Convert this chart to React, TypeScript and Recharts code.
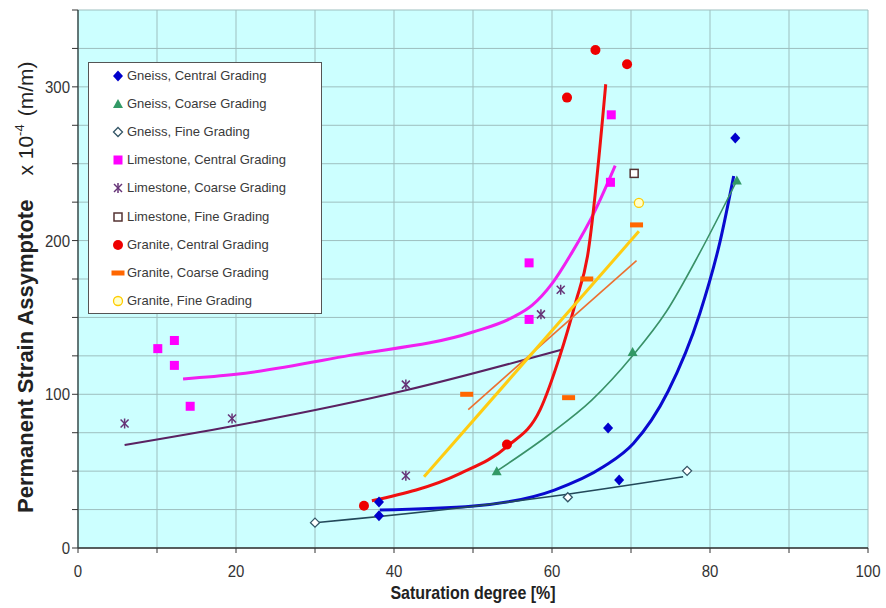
import React from 'react';
import { ComposedChart, Scatter, Line, XAxis, YAxis, CartesianGrid, Legend, Label } from 'recharts';

type P = { x: number; y: number };

// ---- tick values ----
const xTicks = [0, 10, 20, 30, 40, 50, 60, 70, 80, 90, 100];
const yTicks = [0, 25, 50, 75, 100, 125, 150, 175, 200, 225, 250, 275, 300, 325, 350];
const xLabelValues = [0, 20, 40, 60, 80, 100];
const yLabelValues = [0, 100, 200, 300];

// ---- measured points ----
const gneissCentral: P[] = [
  { x: 38.1, y: 21 }, { x: 38.1, y: 30 }, { x: 67.1, y: 78 }, { x: 68.5, y: 44.2 }, { x: 83.2, y: 266.7 },
];
const gneissCoarse: P[] = [{ x: 53.0, y: 50 }, { x: 70.2, y: 127.5 }, { x: 83.4, y: 239 }];
const gneissFine: P[] = [{ x: 30, y: 16.5 }, { x: 62, y: 33 }, { x: 77.1, y: 50.2 }];
const limestoneCentral: P[] = [
  { x: 10.1, y: 129.7 }, { x: 12.2, y: 135 }, { x: 12.2, y: 118.8 }, { x: 14.2, y: 92.2 },
  { x: 57.1, y: 185.5 }, { x: 57.1, y: 148.7 }, { x: 67.4, y: 237.9 }, { x: 67.5, y: 281.8 },
];
const limestoneCoarse: P[] = [
  { x: 5.9, y: 81 }, { x: 19.5, y: 84.2 }, { x: 41.5, y: 106.3 }, { x: 41.5, y: 47 },
  { x: 58.6, y: 152 }, { x: 61.1, y: 168 },
];
const limestoneFine: P[] = [{ x: 70.4, y: 243.7 }];
const graniteCentral: P[] = [
  { x: 36.2, y: 27.5 }, { x: 54.3, y: 67.3 }, { x: 61.9, y: 293 }, { x: 65.5, y: 324 }, { x: 69.5, y: 314.7 },
];
const graniteCoarse: P[] = [{ x: 49.2, y: 100 }, { x: 62.1, y: 97.8 }, { x: 64.4, y: 175 }, { x: 70.7, y: 210.2 }];
const graniteFine: P[] = [{ x: 71, y: 224.5 }];

// ---- trend curves ----
const gneissCentralFit: P[] = [
  { x: 38.2, y: 24.7 }, { x: 50.1, y: 27.3 }, { x: 60.3, y: 37.7 }, { x: 66.5, y: 52.8 },
  { x: 70.3, y: 68 }, { x: 74.7, y: 102 }, { x: 78.7, y: 152.4 }, { x: 81.3, y: 200 }, { x: 83, y: 242 },
];
const gneissCoarseFit: P[] = [
  { x: 53, y: 50 }, { x: 59.7, y: 74 }, { x: 65, y: 96 }, { x: 70.2, y: 125 },
  { x: 74.5, y: 154 }, { x: 78.7, y: 192 }, { x: 83.4, y: 239 },
];
const gneissFineFit: P[] = [{ x: 30, y: 16.5 }, { x: 34.4, y: 18.6 }, { x: 60.3, y: 33.8 }, { x: 76.6, y: 46.3 }];
const limestoneCentralFit: P[] = [
  { x: 13.3, y: 110 }, { x: 20, y: 113 }, { x: 34.4, y: 125.3 }, { x: 50, y: 140.5 },
  { x: 55, y: 150 }, { x: 57.5, y: 158 }, { x: 60, y: 172 }, { x: 62.5, y: 192 }, { x: 65.5, y: 220 }, { x: 68, y: 248.7 },
];
const limestoneCoarseFit: P[] = [{ x: 5.9, y: 67 }, { x: 19.5, y: 79.2 }, { x: 41.5, y: 102.6 }, { x: 61.2, y: 129 }];
const graniteCentralFit: P[] = [
  { x: 37.2, y: 30.7 }, { x: 48.4, y: 48.5 }, { x: 54.3, y: 66 }, { x: 58.5, y: 90 },
  { x: 61, y: 125 }, { x: 63, y: 160 }, { x: 64.5, y: 190 }, { x: 66.8, y: 301.7 },
];
const graniteCoarseFit: P[] = [{ x: 49.4, y: 90 }, { x: 70.7, y: 187 }];
const graniteFineFit: P[] = [{ x: 43.8, y: 46.3 }, { x: 71, y: 206 }];

const seriesNames = [
  'Gneiss, Central Grading', 'Gneiss, Coarse Grading', 'Gneiss, Fine Grading',
  'Limestone, Central Grading', 'Limestone, Coarse Grading', 'Limestone, Fine Grading',
  'Granite, Central Grading', 'Granite, Coarse Grading', 'Granite, Fine Grading',
];

const series = [
  { name: seriesNames[0], data: gneissCentral, marker: 'diamond' },
  { name: seriesNames[1], data: gneissCoarse, marker: 'triangle' },
  { name: seriesNames[2], data: gneissFine, marker: 'openDiamond' },
  { name: seriesNames[3], data: limestoneCentral, marker: 'square' },
  { name: seriesNames[4], data: limestoneCoarse, marker: 'star' },
  { name: seriesNames[5], data: limestoneFine, marker: 'openSquare' },
  { name: seriesNames[6], data: graniteCentral, marker: 'circle' },
  { name: seriesNames[7], data: graniteCoarse, marker: 'dash' },
  { name: seriesNames[8], data: graniteFine, marker: 'openCircle' },
];

const fits = [
  { id: 'f1', data: gneissCentralFit, color: '#0A0ACF', width: 3 },
  { id: 'f2', data: gneissCoarseFit, color: '#3A9168', width: 1.6 },
  { id: 'f3', data: gneissFineFit, color: '#23495A', width: 1.6 },
  { id: 'f4', data: limestoneCentralFit, color: '#F020F0', width: 3 },
  { id: 'f5', data: limestoneCoarseFit, color: '#5A2262', width: 2 },
  { id: 'f6', data: graniteCentralFit, color: '#F01010', width: 3 },
  { id: 'f7', data: graniteCoarseFit, color: '#EC7030', width: 1.6 },
  { id: 'f8', data: graniteFineFit, color: '#FFCC11', width: 3 },
];

const FONT = "'Liberation Sans', Arial, Helvetica, sans-serif";

function Marker({ kind, cx, cy }: { kind: string; cx: number; cy: number }) {
  switch (kind) {
    case 'diamond':
      return <polygon points={`${cx},${cy - 5.5} ${cx + 5},${cy} ${cx},${cy + 5.5} ${cx - 5},${cy}`} fill="#0000CC" />;
    case 'triangle':
      return <polygon points={`${cx},${cy - 5} ${cx + 5},${cy + 4} ${cx - 5},${cy + 4}`} fill="#339966" />;
    case 'openDiamond':
      return <polygon points={`${cx},${cy - 4.5} ${cx + 4.5},${cy} ${cx},${cy + 4.5} ${cx - 4.5},${cy}`} fill="#FFFFFF" stroke="#335566" strokeWidth={1.3} />;
    case 'square':
      return <rect x={cx - 4.5} y={cy - 4.5} width={9} height={9} fill="#FF00FF" />;
    case 'star':
      return (
        <g stroke="#663377" strokeWidth={1.5}>
          <line x1={cx - 4} y1={cy - 4} x2={cx + 4} y2={cy + 4} />
          <line x1={cx - 4} y1={cy + 4} x2={cx + 4} y2={cy - 4} />
          <line x1={cx} y1={cy - 5} x2={cx} y2={cy + 5} />
        </g>
      );
    case 'openSquare':
      return <rect x={cx - 4} y={cy - 4} width={8} height={8} fill="#FFFFFF" stroke="#553333" strokeWidth={1.5} />;
    case 'circle':
      return <circle cx={cx} cy={cy} r={5} fill="#EE0000" />;
    case 'dash':
      return <rect x={cx - 6.5} y={cy - 2.5} width={13} height={5} fill="#FF6600" />;
    case 'openCircle':
      return <circle cx={cx} cy={cy} r={4.5} fill="#FFFFCC" stroke="#FFCC00" strokeWidth={1.3} />;
    default:
      return null;
  }
}

const XTick = (props: any) => {
  const { x, y, payload } = props;
  if (!xLabelValues.includes(payload.value)) return <g />;
  return (
    <text transform={`translate(${x},${y + 22}) scale(1,1.15)`} textAnchor="middle" fontSize={15} fontFamily={FONT} fill="#333">
      {payload.value}
    </text>
  );
};

const YTick = (props: any) => {
  const { x, y, payload } = props;
  if (!yLabelValues.includes(payload.value)) return <g />;
  return (
    <text transform={`translate(${x},${y + 6}) scale(1,1.15)`} textAnchor="end" fontSize={15} fontFamily={FONT} fill="#333">
      {payload.value}
    </text>
  );
};

const XTitle = (props: any) => {
  const vb = props.viewBox || { x: 78, width: 790, y: 548 };
  const cx = vb.x + vb.width / 2;
  return (
    <text transform={`translate(${cx},${599}) scale(1,1.2)`} textAnchor="middle" fontSize={16} fontWeight="bold" fontFamily={FONT} fill="#222">
      Saturation degree [%]
    </text>
  );
};

const YTitle = () => (
  <text transform="translate(33,513) rotate(-90)" fontFamily={FONT} fill="#222">
    <tspan fontSize={22} fontWeight="bold">Permanent Strain Assymptote</tspan>
    <tspan fontSize={21} dx={24}>x 10</tspan>
    <tspan fontSize={13} dy={-9}>-4</tspan>
    <tspan fontSize={21} dy={9} dx={8}>(m/m)</tspan>
  </text>
);

const renderLegend = () => (
  <div
    style={{
      position: 'relative', width: 234, height: 252, boxSizing: 'border-box',
      background: '#FFFFFF', border: '1px solid #555', fontFamily: FONT,
    }}
  >
    {series.map((s, i) => (
      <div key={s.name} style={{ position: 'absolute', left: 22, top: 6 + i * 28.1, height: 14, display: 'flex', alignItems: 'center' }}>
        <svg width={14} height={14} style={{ display: 'block' }}>
          <Marker kind={s.marker} cx={7} cy={7} />
        </svg>
        <span style={{ fontSize: 13, color: '#3a3a3a', lineHeight: '14px', marginLeft: 2, whiteSpace: 'nowrap' }}>{s.name}</span>
      </div>
    ))}
  </div>
);

export default function App() {
  return (
    <div style={{ position: 'absolute', left: 0, top: 0, width: 886, height: 608, background: '#fff' }}>
      <ComposedChart width={886} height={608} margin={{ top: 10, right: 18, bottom: 20, left: 18 }}>
        <CartesianGrid fill="#CCFFFF" stroke="#9DBFBF" strokeWidth={1} fillOpacity={1} />
        <XAxis
          dataKey="x" type="number" domain={[0, 100]} ticks={xTicks} interval={0} height={40}
          allowDataOverflow tick={<XTick />} tickSize={5} tickLine={{ stroke: '#333' }}
          axisLine={{ stroke: '#333', strokeWidth: 1.6 }}
        >
          <Label content={<XTitle />} position="bottom" />
        </XAxis>
        <XAxis xAxisId="top" orientation="top" type="number" domain={[0, 100]} height={0} tick={false} tickLine={false} axisLine={{ stroke: '#777', strokeWidth: 1.3 }} />
        <YAxis
          dataKey="y" type="number" domain={[0, 350]} ticks={yTicks} interval={0} width={60}
          allowDataOverflow tick={<YTick />} tickSize={6} tickLine={{ stroke: '#333' }}
          axisLine={{ stroke: '#3a4a4a', strokeWidth: 1.4 }}
        >
          <Label content={<YTitle />} position="left" />
        </YAxis>
        <YAxis yAxisId="right" orientation="right" type="number" domain={[0, 350]} width={0} tick={false} tickLine={false} axisLine={{ stroke: '#777', strokeWidth: 1.3 }} />
        <Legend
          layout="vertical" align="center" verticalAlign="middle" content={renderLegend}
          wrapperStyle={{ left: 88, top: 62, width: 234, height: 252 }}
        />
        {fits.map((f) => (
          <Line
            key={f.id} data={f.data} dataKey="y" type="monotoneX" stroke={f.color} strokeWidth={f.width}
            dot={false} activeDot={false} isAnimationActive={false} legendType="none"
          />
        ))}
        {series.map((s) => (
          <Scatter
            key={s.name} name={s.name} data={s.data} isAnimationActive={false}
            shape={(p: any) => <Marker kind={s.marker} cx={p.cx} cy={p.cy} />}
          />
        ))}
      </ComposedChart>
    </div>
  );
}
